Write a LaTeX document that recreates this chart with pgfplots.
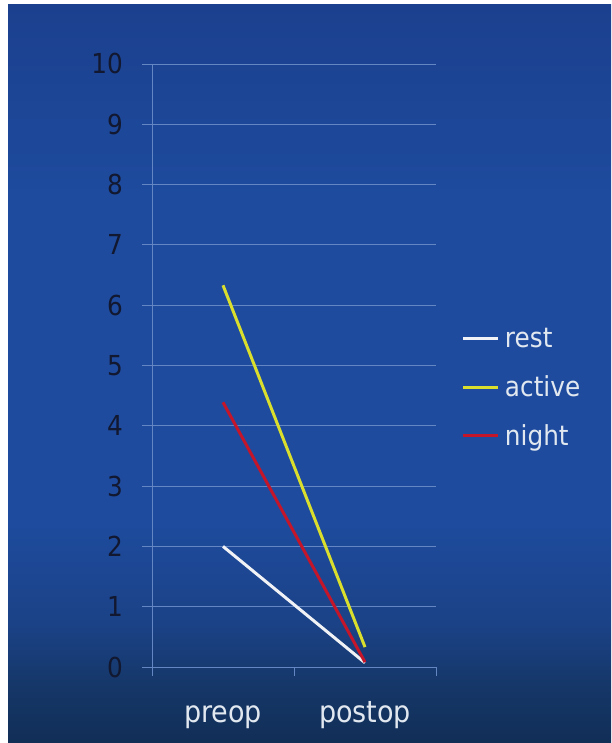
\documentclass[border=0pt]{standalone}
\usepackage{fontspec}
\setmainfont{DejaVu Sans}[FakeStretch=0.9]
\usepackage{pgfplots}
\pgfplotsset{compat=1.18}

\definecolor{bgtop}{RGB}{27,64,142}
\definecolor{bgmain}{RGB}{30,75,158}
\definecolor{bglow}{RGB}{27,66,134}
\definecolor{bgdark}{RGB}{21,55,105}
\definecolor{bgbot}{RGB}{17,46,86}
\definecolor{tickc}{RGB}{18,24,48}
\definecolor{catc}{RGB}{225,232,240}
\definecolor{gridc}{RGB}{100,135,195}
\definecolor{restc}{RGB}{240,242,245}
\definecolor{activec}{RGB}{218,222,45}
\definecolor{nightc}{RGB}{195,22,42}

% vertical background ramp, the path is mapped onto 25bp..75bp
\pgfdeclareverticalshading{panelshade}{100bp}{%
  color(0bp)=(bgbot); color(25bp)=(bgbot); color(29bp)=(bgdark);
  color(33bp)=(bglow); color(40bp)=(bgmain); color(62bp)=(bgmain);
  color(75bp)=(bgtop); color(100bp)=(bgtop)}

\begin{document}
\begin{tikzpicture}[x=1pt,y=1pt]
\fill[white] (0,0) rectangle (611,743);
\shade[shading=panelshade] (8,0) rectangle (611,738);

\begin{axis}[
  at={(152pt,76pt)}, anchor=south west,
  scale only axis, width=284pt, height=603pt,
  xmin=0, xmax=2, ymin=0, ymax=10,
  axis x line*=bottom, axis y line*=left,
  axis line style={draw=gridc, line width=0.9pt},
  ytick={0,1,...,10},
  ymajorgrids, grid style={draw=gridc, line width=0.9pt},
  tick align=outside, major tick length=10pt,
  y tick style={draw=gridc, line width=0.9pt},
  xtick={0.5,1.5}, xticklabels={preop,postop},
  x tick style={draw=none},
  extra x ticks={0,1,2}, extra x tick labels={},
  extra x tick style={major tick length=9pt,
    x tick style={draw=gridc, line width=0.9pt}, grid=none},
  /pgf/number format/assume math mode=true,
  yticklabel style={font=\fontsize{27.5}{30}\selectfont, text=tickc,
    anchor=east, inner sep=0pt, xshift=-19pt},
  xticklabel style={font=\fontsize{30}{32}\selectfont, text=catc,
    anchor=base, inner sep=0pt, yshift=-45pt},
  legend style={at={(1.0915,0.463)}, anchor=west, draw=none, fill=none,
    inner sep=0pt, outer sep=0pt, row sep=26.5pt,
    font=\fontsize{27.5}{30}\selectfont, text=catc,
    nodes={inner sep=0pt}},
  legend cell align=left,
  /tikz/every odd column/.append style={column sep=5pt},
  legend image code/.code={\draw[#1, line width=3pt] (0pt,0pt) -- (35pt,0pt);},
]
\addplot[restc, line width=3pt] coordinates {(0.5,2.00) (1.5,0.07)};
\addlegendentry{rest}
\addplot[activec, line width=3pt] coordinates {(0.5,6.33) (1.5,0.33)};
\addlegendentry{active}
\addplot[nightc, line width=3pt] coordinates {(0.5,4.39) (1.5,0.08)};
\addlegendentry{night}
\end{axis}
\pgfresetboundingbox
\path (0,0) rectangle (611,743);
\end{tikzpicture}
\end{document}
